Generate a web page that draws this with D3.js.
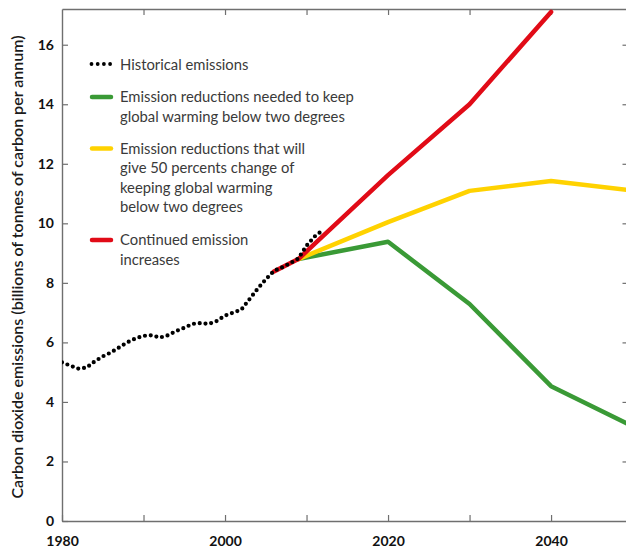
<!DOCTYPE html>
<html>
<head>
<meta charset="utf-8">
<script src="https://cdn.jsdelivr.net/npm/d3@7"></script>
<style>
  html, body { margin: 0; padding: 0; background: #fff; }
  svg { display: block; }
  .tick text { font-family: Lato, "Open Sans", sans-serif; }
</style>
</head>
<body>
<div id="chart"></div>
<script>
const WIDTH = 626;
const HEIGHT = 549;

// historical emissions, one reading per year
const histYears = d3.range(1980, 2013);
const histValues = [5.33, 5.22, 5.12, 5.15, 5.36, 5.53, 5.66, 5.83, 6.00, 6.13,
                    6.22, 6.24, 6.16, 6.24, 6.38, 6.49, 6.62, 6.65, 6.62, 6.72,
                    6.90, 7.00, 7.10, 7.45, 7.80, 8.12, 8.40, 8.52, 8.66, 8.82,
                    9.25, 9.56, 9.77];

const scenYears = [2009, 2020, 2030, 2040, 2050];
const greenValues = [8.80, 9.38, 7.29, 4.53, 3.18];
const yellowValues = [8.80, 10.04, 11.09, 11.42, 11.10];
const redYears = [2006, 2009, 2020, 2030, 2040];
const redValues = [8.38, 8.80, 11.62, 14.00, 17.10];

const yTicks = d3.range(0, 17, 2);
const xTicks = d3.range(1980, 2050, 10);

const legendItems = [
    { key: 'hist', color: '#000', lines: ['Historical emissions'] },
    { key: 'green', color: '#3a9a36', lines: ['Emission reductions needed to keep', 'global warming below two degrees'] },
    { key: 'yellow', color: '#ffd200', lines: ['Emission reductions that will', 'give 50 percents change of', 'keeping global warming', 'below two degrees'] },
    { key: 'red', color: '#e10b17', lines: ['Continued emission', 'increases'] }
];

const margin = { top: 9, left: 62, bottom: 28 };
const plotRight = 628.5;
const plotBottom = HEIGHT - margin.bottom;

const x = d3.scaleLinear().domain([1980, 2049.5]).range([margin.left, plotRight]);
const y = d3.scaleLinear().domain([0, 17.2]).range([plotBottom, margin.top]);

const svg = d3.select('#chart').append('svg')
    .attr('width', WIDTH)
    .attr('height', HEIGHT);

svg.append('clipPath').attr('id', 'plot-clip')
    .append('rect')
    .attr('x', margin.left).attr('y', margin.top)
    .attr('width', plotRight - margin.left)
    .attr('height', plotBottom - margin.top);

const AXIS_COLOR = '#6f6f6f';
function styleAxis(g) {
    g.select('.domain').attr('stroke', AXIS_COLOR).attr('stroke-width', 1.4);
    g.selectAll('.tick line').attr('stroke', AXIS_COLOR).attr('stroke-width', 1.2);
    g.selectAll('.tick text')
        .attr('fill', '#111')
        .style('font-size', '14px')
        .style('font-weight', '700');
}

// frame: bottom / left with labels, top / right ticks only
svg.append('g')
    .attr('transform', `translate(0,${plotBottom})`)
    .call(d3.axisBottom(x).tickValues(xTicks).tickSizeInner(-6).tickSizeOuter(0).tickPadding(15)
        .tickFormat(d => d % 20 === 0 ? d : ''))
    .call(styleAxis);

svg.append('g')
    .attr('transform', `translate(${margin.left},0)`)
    .call(d3.axisLeft(y).tickValues(yTicks).tickSizeInner(-6).tickSizeOuter(0).tickPadding(8))
    .call(styleAxis);

svg.append('g')
    .attr('transform', `translate(0,${margin.top})`)
    .call(d3.axisTop(x).tickValues(xTicks.slice(1)).tickSizeInner(-6).tickSizeOuter(0).tickFormat(''))
    .call(styleAxis);

svg.append('g')
    .attr('transform', `translate(${plotRight},0)`)
    .call(d3.axisRight(y).tickValues(yTicks.slice(1)).tickSizeInner(-6).tickSizeOuter(0).tickFormat(''))
    .call(styleAxis);

// y title
svg.append('text')
    .attr('transform', 'translate(23,267) rotate(-90)')
    .attr('text-anchor', 'middle')
    .attr('fill', '#1a1a1a')
    .style('font-family', 'Lato, "Open Sans", sans-serif')
    .style('font-size', '16px')
    .style('font-weight', '600')
    .text('Carbon dioxide emissions (billions of tonnes of carbon per annum)');

const line = d3.line().x(d => x(d[0])).y(d => y(d[1]));
const plot = svg.append('g').attr('clip-path', 'url(#plot-clip)');

function drawSeries(years, values, color) {
    plot.append('path')
        .datum(d3.zip(years, values))
        .attr('d', line)
        .attr('fill', 'none')
        .attr('stroke', color)
        .attr('stroke-width', 4.5)
        .attr('stroke-linejoin', 'round')
        .attr('stroke-linecap', 'round');
}
drawSeries(scenYears, greenValues, legendItems[1].color);
drawSeries(scenYears, yellowValues, legendItems[2].color);
drawSeries(redYears, redValues, legendItems[3].color);

// historical as dots on top
plot.append('path')
    .datum(d3.zip(histYears, histValues))
    .attr('d', line)
    .attr('fill', 'none')
    .attr('stroke', '#000')
    .attr('stroke-width', 4.2)
    .attr('stroke-linecap', 'round')
    .attr('stroke-dasharray', '0,5.8');

// legend
const legend = svg.append('g');
const LINE_H = 19.5;
const rowTops = [65, 97, 148.5, 240];
legendItems.forEach((item, i) => {
    const g = legend.append('g').attr('transform', `translate(0,${rowTops[i]})`);
    const sample = g.append('line')
        .attr('x1', 92).attr('x2', 111)
        .attr('y1', 0).attr('y2', 0)
        .attr('stroke', item.color)
        .attr('stroke-linecap', 'round');
    if (item.key === 'hist')
        sample.attr('x1', 91.5).attr('x2', 110.5).attr('stroke-width', 3.8).attr('stroke-dasharray', '0,6.2').attr('y1', -1).attr('y2', -1);
    else
        sample.attr('stroke-width', 4.5);
    g.selectAll('text')
        .data(item.lines)
        .join('text')
        .attr('x', 120)
        .attr('y', (d, j) => j * LINE_H)
        .attr('dy', '0.35em')
        .attr('fill', '#3a3a3a')
        .style('font-family', 'Lato, "Open Sans", sans-serif')
        .style('font-size', '14.8px')
        .text(d => d);
});
</script>
</body>
</html>
